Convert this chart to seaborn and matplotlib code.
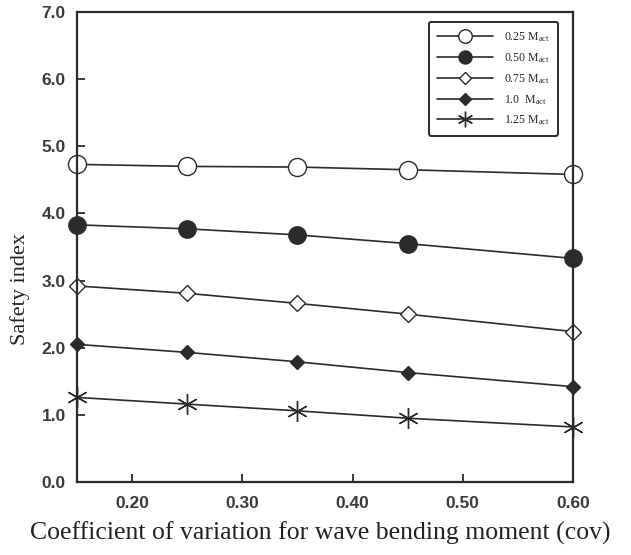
import pandas as pd
import matplotlib
matplotlib.use("Agg")
import matplotlib.pyplot as plt
import seaborn as sns

# values
cov = [0.15, 0.25, 0.35, 0.45, 0.60]
beta_025 = [4.73, 4.70, 4.69, 4.65, 4.58]
beta_050 = [3.83, 3.77, 3.68, 3.55, 3.33]
beta_075 = [2.92, 2.81, 2.66, 2.50, 2.24]
beta_100 = [2.05, 1.93, 1.79, 1.63, 1.42]
beta_125 = [1.26, 1.16, 1.06, 0.95, 0.82]
labels = ["0.25", "0.50", "0.75", "1.0 ", "1.25"]
x_ticks = [0.20, 0.30, 0.40, 0.50, 0.60]
y_ticks = [0, 1, 2, 3, 4, 5, 6, 7]

sns.set_style("ticks")
plt.rcParams["font.family"] = ["Liberation Serif", "DejaVu Serif"]
plt.rcParams["mathtext.fontset"] = "stix"

ink = "#2b2b2b"
styles = [
    dict(marker="o", markersize=13, mfc="white", mec=ink, mew=1.0),
    dict(marker="o", markersize=12.5, mfc=ink, mec=ink, mew=1.0),
    dict(marker="D", markersize=8, mfc="white", mec=ink, mew=1.0),
    dict(marker="D", markersize=7.5, mfc=ink, mec=ink, mew=1.0),
    dict(marker=(6, 2, 0), markersize=15, mfc=ink, mec=ink, mew=1.0),
]
series = [beta_025, beta_050, beta_075, beta_100, beta_125]

fig = plt.figure(figsize=(6.31, 5.55), dpi=100)
ax = fig.add_axes([0.122, 0.1315, 0.786, 0.847])

for lab, vals, st in zip(labels, series, styles):
    df = pd.DataFrame({"cov": cov, "beta": vals})
    sns.lineplot(data=df, x="cov", y="beta", ax=ax, color=ink, linewidth=1.2,
                 label=lab + r" $\mathregular{M_{act}}$", clip_on=False, **st)

ax.set_xlim(0.15, 0.60)
ax.set_ylim(0, 7)
ax.set_xticks(x_ticks)
ax.set_yticks(y_ticks)
ax.set_xticklabels([f"{t:.2f}" for t in x_ticks], family="Liberation Sans",
                   fontsize=12.5, fontweight="bold", color="#3a3a3a")
ax.set_yticklabels([f"{t:.1f}" for t in y_ticks], family="Liberation Sans",
                   fontsize=12.5, fontweight="bold", color="#3a3a3a")
ax.tick_params(axis="x", direction="in", length=6, width=1.3, color=ink, pad=10)
ax.tick_params(axis="y", direction="in", length=6, width=1.3, color=ink, pad=8)
for s in ax.spines.values():
    s.set_linewidth(1.6)
    s.set_color(ink)

ax.set_xlabel("Coefficient of variation for wave bending moment (cov)",
              fontsize=18.5, color="#222222")
ax.xaxis.set_label_coords(0.49, -0.085)
ax.set_ylabel("Safety index", fontsize=16, color="#222222")
ax.yaxis.set_label_coords(-0.094, 0.41)

leg = ax.legend(loc="upper right", bbox_to_anchor=(0.97, 0.979), fontsize=8.5,
                frameon=True, fancybox=True, handlelength=4.8, labelspacing=0.6,
                borderpad=0.7, handletextpad=0.9, borderaxespad=0, markerscale=0.75)
leg.get_frame().set_edgecolor(ink)
leg.get_frame().set_linewidth(1.4)
leg.get_frame().set_alpha(1)

fig.savefig("out.png", dpi=100)
